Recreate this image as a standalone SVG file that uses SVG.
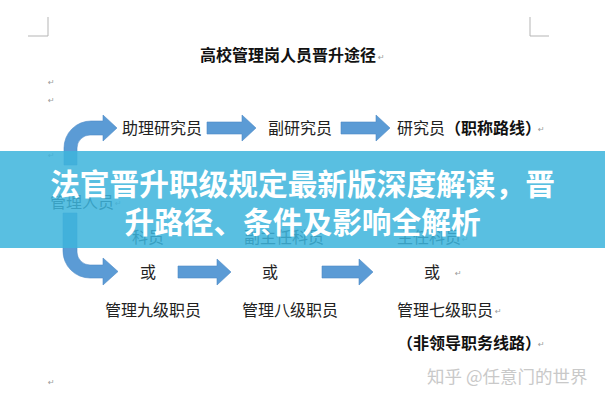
<svg xmlns="http://www.w3.org/2000/svg" width="605" height="400" viewBox="0 0 605 400">
<style>
.t{font-family:"Noto Sans CJK SC","Noto Sans",sans-serif;font-size:16px;fill:#222}
.b{font-weight:700;fill:#111}
.pm{font-family:"DejaVu Sans",sans-serif;font-size:8px;fill:#9a9a9a}
.arr{fill:#5b9bd5;stroke:#4f8cc8;stroke-width:0.6}
.corner{fill:none;stroke:#b5b5b5;stroke-width:1}
.ban{font-family:"Noto Sans CJK SC","Noto Sans",sans-serif;font-size:29.7px;font-weight:700;fill:#fff;text-anchor:middle}
</style>
<rect width="605" height="400" fill="#fff"/>
<path class="corner" d="M48,17 V36 H28 M530,17 V36 H549"/>
<g id="title"><text class="t b" x="200" y="61">高校管理岗人员晋升途径</text></g>
<g id="marks">
<text class="pm" x="378" y="60">↵</text>
<text class="pm" x="48" y="85">↵</text>
<text class="pm" x="48" y="103">↵</text>
<text class="pm" x="48" y="158">↵</text>
<text class="pm" x="115" y="206">↵</text>
<text class="pm" x="538" y="132">↵</text>
<text class="pm" x="462" y="242">↵</text>
<text class="pm" x="455" y="276">↵</text>
<text class="pm" x="495" y="314">↵</text>
<text class="pm" x="538" y="347">↵</text>
<text class="pm" x="48" y="385">↵</text>
</g>
<g id="connectors">
<path class="arr" d="M64,165 L64,148 A27,27 0 0 1 91,121 L103,121 L103,115 L117,128 L103,141 L103,135 L90,135 A13,13 0 0 0 77,148 L77,165 Z"/>
<path class="arr" d="M63,213 L63,251 A27,27 0 0 0 90,278 L103,278 L103,285 L118,271.5 L103,258 L103,265 L90,265 A13,13 0 0 1 77,252 L77,213 Z"/>
<path class="arr" d="M207,122 H242 V115 L256,128 L242,141 V134 H207 Z"/>
<path class="arr" d="M341,122 H376 V115 L390,128 L376,141 V134 H341 Z"/>
<path class="arr" d="M178,266 H217 V259 L231,272 L217,285 V278 H178 Z"/>
<path class="arr" d="M322,266 H359 V259 L373,272 L359,285 V278 H322 Z"/>
</g>
<g id="n-zhuli"><text class="t" x="122" y="134">助理研究员</text></g>
<g id="n-fu"><text class="t" x="268" y="134">副研究员</text></g>
<g id="n-yan"><text class="t" x="397" y="134">研究员</text><text class="t b" x="445" y="134">（职称路线）</text></g>
<g id="n-guanli"><text class="t" x="50" y="208">管理人员</text></g>
<g id="n-keyuan"><text class="t" x="132" y="243">科员</text></g>
<g id="n-fuzhuren"><text class="t" x="244" y="243">副主任科员</text></g>
<g id="n-zhuren"><text class="t" x="397" y="243">主任科员</text></g>
<g id="n-huo1"><text class="t" x="140" y="278">或</text></g>
<g id="n-huo2"><text class="t" x="262" y="278">或</text></g>
<g id="n-huo3"><text class="t" x="424" y="278">或</text></g>
<g id="n-jiu"><text class="t" x="105" y="316">管理九级职员</text></g>
<g id="n-ba"><text class="t" x="242" y="316">管理八级职员</text></g>
<g id="n-qi"><text class="t" x="397" y="316">管理七级职员</text></g>
<g id="n-fei"><text class="t b" x="397" y="349">（非领导职务线路）</text></g>
<g id="watermark"><text x="427" y="383" style="font-family:'Noto Sans CJK SC','Noto Sans',sans-serif;font-size:17.5px;fill:#c9c9c9">知乎 @任意门的世界</text></g>
<g id="banner">
<rect x="0" y="151" width="605" height="97" fill="#3eb4dc" fill-opacity="0.86"/>
<text class="ban" x="302.5" y="195">法官晋升职级规定最新版深度解读，晋</text>
<text class="ban" x="302.5" y="233">升路径、条件及影响全解析</text>
</g>
</svg>
